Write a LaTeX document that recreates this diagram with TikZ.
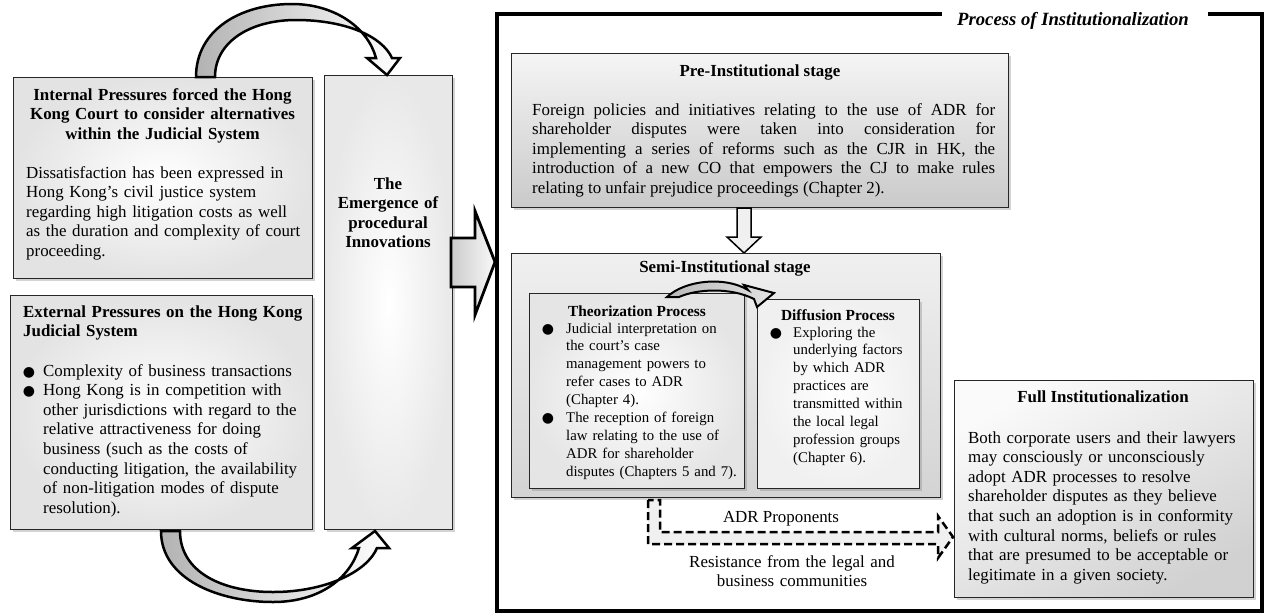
\documentclass[tikz,border=0pt]{standalone}
\usepackage{fontspec}
\setmainfont{Liberation Serif}
\newfontfamily\bulletfont{DejaVu Sans}
\usetikzlibrary{shadows,calc}
\begin{document}
\begin{tikzpicture}[x=1pt,y=-1pt,
  box/.style={draw=black!85, line width=1.3pt, inner sep=0pt, anchor=north west,
    drop shadow={opacity=0.35, shadow xshift=2.5pt, shadow yshift=-2.5pt}},
  radialbox/.style={box, shading=radial, inner color=white, outer color=gray!22},
  txt/.style={inner sep=0pt, font=\fontsize{16.9}{19.6}\selectfont},
  btxt/.style={inner sep=0pt, font=\fontsize{16.9}{19.6}\selectfont\bfseries},
  stxt/.style={inner sep=0pt, font=\fontsize{14.8}{17.9}\selectfont},
  sbtxt/.style={inner sep=0pt, font=\fontsize{15.4}{17.9}\selectfont\bfseries},
  bul/.style={inner sep=0pt, anchor=base, font=\bulletfont\fontsize{14}{14}\selectfont},
  blockarrow/.style={draw=black, line width=2.5pt, line join=miter},
]
\useasboundingbox (0,0) rectangle (1265,614);

% ---------- left boxes ----------
\node[radialbox, minimum width=299, minimum height=201] (intbox) at (13,77) {};
\node[radialbox, minimum width=302, minimum height=234] (extbox) at (10,295) {};
\node[radialbox, minimum width=128, minimum height=454, outer color=gray!18] (embox) at (324,75) {};

\node[btxt, text width=298, align=center, anchor=base] (intT) at (162.5,100)
  {Internal Pressures forced the Hong\\Kong Court to consider alternatives\\within the Judicial System};
\node[txt, text width=292, align=left, anchor=base west] (intB) at (26,178)
  {Dissatisfaction has been expressed in\\Hong Kong’s civil justice system\\regarding high litigation costs as well\\as the duration and complexity of court\\proceeding.};

\node[btxt, text width=296, align=left, anchor=base west] (extT) at (23,317)
  {External Pressures on the Hong Kong\\Judicial System};
\node[bul] (eb1) at (29,376) {●};
\node[txt, text width=268, align=left, anchor=base west] (ext1) at (43,376)
  {Complexity of business transactions};
\node[bul] (eb2) at (29,395.6) {●};
\node[txt, text width=268, align=left, anchor=base west] (ext2) at (43,395.6)
  {Hong Kong is in competition with\\other jurisdictions with regard to the\\relative attractiveness for doing\\business (such as the costs of\\conducting litigation, the availability\\of non-litigation modes of dispute\\resolution).};

\node[btxt, text width=125, align=center, anchor=base] (emT) at (388,189)
  {The\\Emergence of\\procedural\\Innovations};

% ---------- curved arrows left ----------
\draw[blockarrow, left color=gray!60, right color=white]
  (196,77) .. controls (196,30) and (240,4) .. (292,4)
  .. controls (335,4) and (368,28) .. (376,58)
  -- (367,58) -- (387,75) -- (400,58) -- (392,58)
  .. controls (382,36) and (345,20) .. (296,20)
  .. controls (250,20) and (215,42) .. (215,77) -- cycle;

\draw[blockarrow, left color=gray!60, right color=white]
  (161,531) .. controls (161,580) and (220,602) .. (273,602)
  .. controls (320,602) and (350,578) .. (359,548)
  -- (352,548) -- (375,531) -- (389,548) -- (377,548)
  .. controls (367,572) and (325,592) .. (273,592)
  .. controls (222,592) and (180,572) .. (180,531) -- cycle;

% ---------- big right arrow ----------
\draw[line width=2.8pt, line join=miter, left color=gray!40, right color=gray!5]
  (451,238) -- (475,238) -- (475,211) -- (495,262) -- (475,315) -- (475,287) -- (451,287) -- cycle;

% ---------- frame ----------
\node[inner sep=0pt, font=\fontsize{18.7}{20}\selectfont\bfseries\itshape, anchor=base] (procT) at (1073,25)
  {Process of Institutionalization};
\coordinate (fl) at (942,14);
\coordinate (fr) at (1208,14);
\draw[line width=4pt, line join=miter] (fl) -- (497,14) -- (497,611) -- (1262,611) -- (1262,14) -- (fr);

% ---------- pre-institutional ----------
\node[box, minimum width=497, minimum height=154, top color=gray!8, bottom color=gray!42] (prebox) at (511,53) {};
\node[btxt, anchor=base] (preT) at (760,76) {Pre-Institutional stage};
\node[txt, text width=463, align=justify, anchor=base west] (preB) at (532,115)
  {Foreign policies and initiatives relating to the use of ADR for\linebreak
   shareholder disputes were taken into consideration for\linebreak
   implementing a series of reforms such as the CJR in HK, the\linebreak
   introduction of a new CO that empowers the CJ to make rules\linebreak
   relating to unfair prejudice proceedings (Chapter 2).};

\draw[line width=1.5pt, line join=miter, fill=gray!12]
  (737,208) -- (737,237) -- (727,237) -- (744,253) -- (761,237) -- (751,237) -- (751,208) -- cycle;

% ---------- semi-institutional ----------
\node[box, minimum width=429, minimum height=244, top color=gray!12, bottom color=gray!34] (semibox) at (511,253) {};
\node[btxt, anchor=base] (semiT) at (725,272) {Semi-Institutional stage};

\node[box, line width=1pt, minimum width=215, minimum height=195, shading=radial, inner color=white, outer color=gray!20] (thbox) at (529,293) {};
\node[box, line width=1pt, minimum width=162, minimum height=189, shading=radial, inner color=white, outer color=gray!12] (difbox) at (757,299) {};

\node[sbtxt, anchor=base] (thT) at (637,316) {Theorization Process};
\node[bul] (tb1) at (548,333) {●};
\node[stxt, text width=176, align=left, anchor=base west] (th1) at (566,333)
  {Judicial interpretation on\\the court’s case\\management powers to\\refer cases to ADR\\(Chapter 4).};
\node[bul] (tb2) at (548,422.5) {●};
\node[stxt, text width=176, align=left, anchor=base west] (th2) at (566,422.5)
  {The reception of foreign\\law relating to the use of\\ADR for shareholder\\disputes (Chapters 5 and 7).};

\node[sbtxt, anchor=base] (difT) at (838,320) {Diffusion Process};
\node[bul] (db1) at (776,337) {●};
\node[stxt, text width=125, align=left, anchor=base west] (dif1) at (793,337)
  {Exploring the\\underlying factors\\by which ADR\\practices are\\transmitted within\\the local legal\\profession groups\\(Chapter 6).};

\draw[line width=2pt, line join=miter, left color=gray!55, right color=gray!22]
  (667,297) .. controls (685,280) and (725,276) .. (748,290)
  -- (744,285) -- (774,293) -- (757,307) -- (754,299)
  .. controls (730,287) and (697,289) .. (679,297) -- cycle;

% ---------- full institutionalization ----------
\node[box, minimum width=299, minimum height=217, shading=axis, top color=gray!4, bottom color=gray!36, shading angle=30] (fullbox) at (954,380) {};
\node[btxt, anchor=base] (fullT) at (1103,402) {Full Institutionalization};
\node[txt, text width=284, align=left, anchor=base west] (fullB) at (968,443)
  {Both corporate users and their lawyers\\may consciously or unconsciously\\adopt ADR processes to resolve\\shareholder disputes as they believe\\that such an adoption is in conformity\\with cultural norms, beliefs or rules\\that are presumed to be acceptable or\\legitimate in a given society.};

% ---------- dashed arrow ----------
\draw[line width=2.5pt, dash pattern=on 8pt off 4pt, fill=gray!12, line join=miter]
  (648,500) -- (648,544) -- (938,544) -- (938,558) -- (953,537) -- (938,516) -- (938,532) -- (660,532) -- (660,500) -- cycle;
\node[txt, anchor=base] (adrp) at (781,522) {ADR Proponents};
\node[txt, text width=240, align=center, anchor=base] (resist) at (792,567)
  {Resistance from the legal and\\business communities};
\end{tikzpicture}
\end{document}
